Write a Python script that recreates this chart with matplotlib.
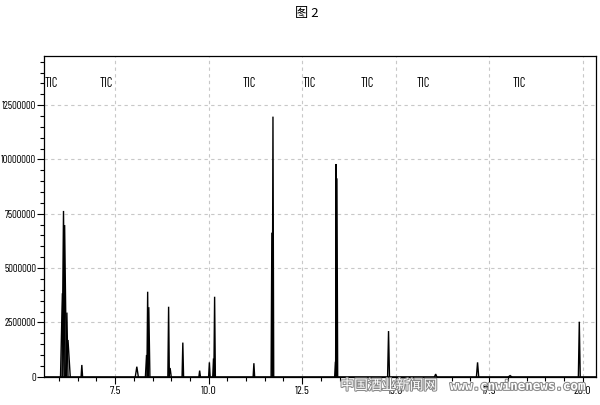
"""Recreate the TIC chromatogram figure (图 2)."""

import matplotlib
matplotlib.use("Agg")
import matplotlib.pyplot as plt
import matplotlib.patheffects as pe
import matplotlib.transforms as mtransforms
from matplotlib.ticker import MultipleLocator, FormatStrFormatter

plt.rcParams["font.family"] = ["Barlow Condensed", "Liberation Sans", "DejaVu Sans"]

# Peak table: retention time (min), apex (counts), half base width (min)
peak_times = [6.09, 6.12, 6.15, 6.21, 6.24, 6.61, 8.08, 8.34, 8.37, 8.40,
              8.93, 8.97, 9.31, 9.76, 10.02, 10.13, 10.16, 11.21, 11.69, 11.72,
              13.39, 13.41, 13.43, 14.81, 16.07, 17.19, 18.06, 19.91]
peak_heights = [3840000, 7630000, 6980000, 2950000, 1690000, 540000, 460000, 1000000, 3910000, 3200000,
                3220000, 400000, 1570000, 280000, 660000, 840000, 3680000, 620000, 6630000, 11970000,
                690000, 9790000, 9130000, 2100000, 120000, 660000, 50000, 2530000]
peak_half_widths = [0.05, 0.04, 0.05, 0.03, 0.06, 0.02, 0.04, 0.03, 0.02, 0.03,
                    0.02, 0.03, 0.02, 0.02, 0.02, 0.02, 0.02, 0.02, 0.02, 0.02,
                    0.02, 0.015, 0.02, 0.025, 0.03, 0.03, 0.04, 0.025]

tic_label_times = [5.79, 7.26, 11.09, 12.70, 14.25, 15.75, 18.30]

x_range = (5.606, 20.356)
y_range = (0, 14760000)

fig = plt.figure(figsize=(6.0, 4.05), dpi=100, facecolor="white")
ax = fig.add_axes([0.0738, 0.0699, 0.9195, 0.7918])

# baseline, then each peak as a narrow spike
ax.plot(x_range, [0, 0], color="black", linewidth=1.2, zorder=3)
for t, h, w in zip(peak_times, peak_heights, peak_half_widths):
    ax.plot([t - w, t, t + w], [0, h, 0], color="black", linewidth=1.0,
            solid_joinstyle="miter", zorder=3)

ax.set_xlim(*x_range)
ax.set_ylim(*y_range)
ax.xaxis.set_major_locator(MultipleLocator(2.5))
ax.xaxis.set_minor_locator(MultipleLocator(0.5))
ax.yaxis.set_major_locator(MultipleLocator(2500000))
ax.yaxis.set_minor_locator(MultipleLocator(500000))
ax.xaxis.set_major_formatter(FormatStrFormatter("%.1f"))
ax.yaxis.set_major_formatter(FormatStrFormatter("%d"))
ax.tick_params(which="major", direction="out", length=5, width=0.8, labelsize=7.6, pad=0.8)
ax.tick_params(axis="x", which="major", labelsize=8.5, pad=2)
ax.tick_params(which="minor", direction="out", length=3, width=0.8)
ax.grid(which="major", color="#c8c8c8", linestyle=(0, (3, 3)), linewidth=0.8)
for spine in ax.spines.values():
    spine.set_linewidth(0.9)

trans = mtransforms.blended_transform_factory(ax.transData, ax.transAxes)
for t in tic_label_times:
    ax.text(t, 0.915, "TIC", transform=trans, ha="center", va="center", fontsize=9)

fig.text(0.512, 0.966, "图 2", ha="center", va="center", fontsize=9.5,
         family=["Noto Sans CJK SC", "DejaVu Sans"])

# site watermark
outline = [pe.withStroke(linewidth=1.5, foreground="#8a8a8a")]
fig.text(0.567, 0.048, "中国酒业新闻网", ha="left", va="center", fontsize=10,
         color="white", family=["Noto Sans CJK SC", "DejaVu Sans"], path_effects=outline)
fig.text(0.75, 0.046, "www.cnwinenews.com", ha="left", va="center", fontsize=9,
         color="white", family=["DejaVu Sans Mono"], fontweight="bold", path_effects=outline)

fig.savefig("out.png", dpi=100)
